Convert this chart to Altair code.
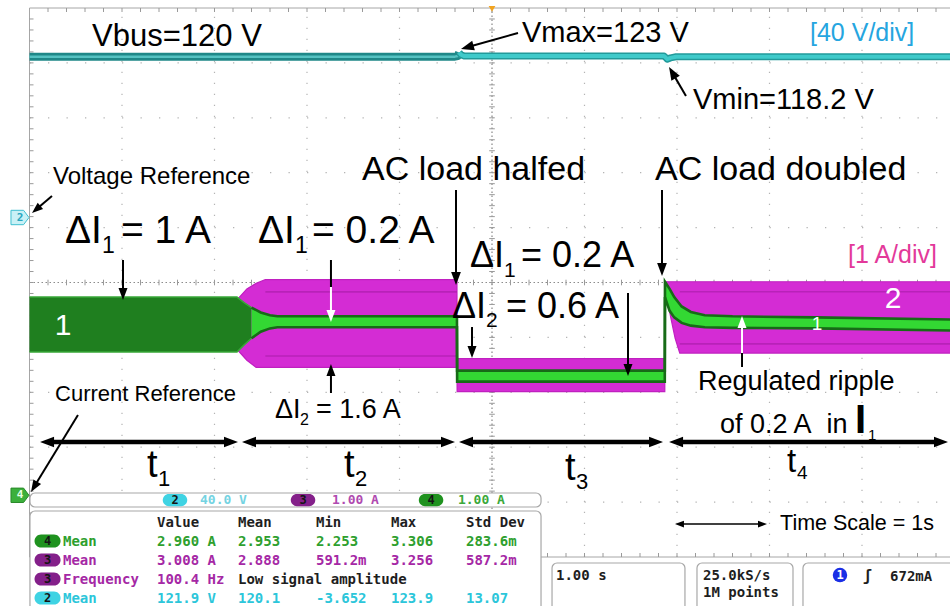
import math
import pandas as pd
import altair as alt

# ---------------------------------------------------------------------------
# Screen geometry: 1 s per horizontal division, vertical axis in divisions
# above the current reference (currents are 1 A/div, so 1 div = 1 A).
# ---------------------------------------------------------------------------
PX_PER_S = 92.5
PX_PER_DIV = 54.9
WIDTH, HEIGHT = 950, 606
ORIGIN_X, ORIGIN_Y = 492, 492          # t = 0 s column, 0 A row

X_DOMAIN = [-ORIGIN_X / PX_PER_S, (WIDTH - ORIGIN_X) / PX_PER_S]
Y_DOMAIN = [(ORIGIN_Y - HEIGHT) / PX_PER_DIV, ORIGIN_Y / PX_PER_DIV]

GRID_MID = 3.816                        # centre row of the graticule (div)
GRID_TOP, GRID_BOT = GRID_MID + 5, GRID_MID - 5
GRID_L, GRID_R = -5.0, 5.0

# ---------------------------------------------------------------------------
# Waveforms
# ---------------------------------------------------------------------------
# Channel 2: bus voltage, 40 V/div, reference marker at 4.93 div
V_REF = 4.93
V_SCALE = 40.0
vbus_t = [-5.0, -0.40, -0.37, -0.355, -0.335, -0.30, 1.86, 1.875, 1.895, 1.93, 1.99, 5.0]
vbus_v = [120.0, 120.0, 120.4, 123.0, 121.4, 120.4, 120.4, 119.5, 118.2, 119.1, 119.9, 120.0]

# Channel 3: I2 envelope (A)
i2_t = [-2.757, -2.65, -2.55, -2.45, -0.379, -0.377, 1.868, 1.870, 1.93, 1.98, 2.03, 5.0]
i2_lo = [2.60, 2.40, 2.27, 2.27, 2.27, 1.83, 1.83, 3.75, 3.20, 2.80, 2.53, 2.53]
i2_hi = [3.50, 3.70, 3.80, 3.87, 3.87, 2.43, 2.43, 3.83, 3.83, 3.83, 3.83, 3.83]

# Channel 4: I1 envelope (A)
i1_t = [-5.0, -2.757, -2.68, -2.60, -2.50, -2.40, -2.32, -0.379, -0.377, 1.868,
        1.870, 1.92, 1.97, 2.05, 2.15, 2.30, 2.60, 3.50, 5.0]
i1_lo = [2.55, 2.55, 2.68, 2.80, 2.92, 2.98, 3.00, 3.00, 2.01, 2.01,
         3.55, 3.30, 3.18, 3.08, 3.03, 3.00, 2.99, 2.98, 2.94]
i1_hi = [3.55, 3.55, 3.45, 3.36, 3.27, 3.22, 3.20, 3.20, 2.21, 2.21,
         3.83, 3.70, 3.55, 3.38, 3.28, 3.22, 3.20, 3.18, 3.14]

# ---------------------------------------------------------------------------
# Measurement readout
# ---------------------------------------------------------------------------
scale_channels = ["2", "3", "4"]
scale_values = ["40.0 V", "1.00 A", "1.00 A"]
meas_header = ["Value", "Mean", "Min", "Max", "Std Dev"]
meas_channel = ["4", "3", "3", "2"]
meas_name = ["Mean", "Mean", "Frequency", "Mean"]
meas_value = ["2.960 A", "3.008 A", "100.4 Hz", "121.9 V"]
meas_mean = ["2.953", "2.888", "Low signal amplitude", "120.1"]
meas_min = ["2.253", "591.2m", "", "-3.652"]
meas_max = ["3.306", "3.256", "", "123.9"]
meas_std = ["283.6m", "587.2m", "", "13.07"]
status_timebase = "1.00 s"
status_rate = ["25.0kS/s", "1M points"]
status_trigger = ["1", "\u0283", "672mA"]

CH_TEXT = {"2": "#2cc6da", "3": "#a528a5", "4": "#2ea02e"}
CH_PILL = {"2": "#3fd3e3", "3": "#84208a", "4": "#1f921f"}

SANS = "Liberation Sans, Arial, Helvetica, sans-serif"
MONO = "DejaVu Sans Mono, monospace"

xs = alt.Scale(domain=X_DOMAIN, nice=False, zero=False)
ys = alt.Scale(domain=Y_DOMAIN, nice=False, zero=False)


def X(f):
    return alt.X(f, type="quantitative", scale=xs, axis=None)


def Y(f):
    return alt.Y(f, type="quantitative", scale=ys, axis=None)


def rule_layer(rows, color, width=1.0, dash=None):
    kw = dict(color=color, strokeWidth=width, strokeCap="butt")
    if dash is not None:
        kw["strokeDash"] = dash
    df = pd.DataFrame(rows, columns=["x", "y", "x2", "y2"])
    return alt.Chart(df).mark_rule(**kw).encode(
        x=X("x"), y=Y("y"), x2=alt.X2("x2"), y2=alt.Y2("y2"))


def text_layer(rows, font=SANS, weight="normal", align="left", baseline="alphabetic"):
    df = pd.DataFrame(rows, columns=["text", "t", "d", "size", "color"])
    return alt.Chart(df).mark_text(font=font, fontWeight=weight, align=align,
                                   baseline=baseline).encode(
        x=X("t"), y=Y("d"), text="text:N",
        size=alt.Size("size:Q", scale=None, legend=None),
        color=alt.Color("color:N", scale=None, legend=None))


layers = []

# ---- graticule ------------------------------------------------------------
tx, ty = 4 / PX_PER_S, 4 / PX_PER_DIV
minor_t = [GRID_L + 0.2 * k for k in range(1, 50)]
minor_d = [GRID_BOT + 0.2 * k for k in range(1, 50)]
layers.append(rule_layer([(c, GRID_BOT, c, GRID_TOP) for c in range(-4, 5) if c != 0],
                         "#b4b4b4", 1.2, [1.3, 9.7]))
layers.append(rule_layer([(GRID_L, GRID_MID + j, GRID_R, GRID_MID + j) for j in range(-4, 5) if j != 0],
                         "#b4b4b4", 1.2, [1.3, 17.2]))
layers.append(rule_layer([(0, GRID_BOT, 0, GRID_TOP)], "#6e6e6e", 1.0, [1.5, 2.5]))
layers.append(rule_layer([(GRID_L, GRID_MID, GRID_R, GRID_MID)], "#8c8c8c", 1.0, [1.5, 2.5]))
layers.append(rule_layer([(GRID_L, GRID_TOP, GRID_R, GRID_TOP),
                          (GRID_L, GRID_BOT, GRID_L, GRID_TOP),
                          (GRID_L, GRID_BOT, GRID_R, GRID_BOT)], "#a6a6a6", 1.0))
layers.append(rule_layer(
    [(t, GRID_TOP, t, GRID_TOP - ty) for t in minor_t]
    + [(t, GRID_BOT, t, GRID_BOT + ty) for t in minor_t]
    + [(GRID_L, d, GRID_L + tx, d) for d in minor_d]
    + [(t, GRID_MID - 0.7 * ty, t, GRID_MID + 0.7 * ty) for t in minor_t]
    + [(-0.7 * tx, d, 0.7 * tx, d) for d in minor_d], "#9a9a9a", 1.0))

# ---- current envelopes ----------------------------------------------------
i2 = pd.DataFrame({"t": i2_t, "lo": i2_lo, "hi": i2_hi})
i1 = pd.DataFrame({"t": i1_t, "lo": i1_lo, "hi": i1_hi})
i1_dark = i1[i1.t <= -2.60]
i1_bright = i1[i1.t >= -2.60]

# darker persistence stripes inside the wide I2 envelopes (t2 and t4)
stripe_frames = []
for seg, (a, b) in enumerate([(-2.45, -0.379), (2.03, 5.0)]):
    part = i2[(i2.t >= a) & (i2.t <= b)]
    for k, frac in enumerate([0.13, 0.86]):
        stripe_frames.append(pd.DataFrame({
            "t": part.t, "d": part.lo + frac * (part.hi - part.lo), "key": f"{seg}-{k}"}))
stripes = pd.concat(stripe_frames, ignore_index=True)


def band(df, color):
    return alt.Chart(df).mark_area(color=color, opacity=1, interpolate="linear").encode(
        x=X("t"), y=Y("lo"), y2=alt.Y2("hi"))


def edge(df, field, color, width):
    return alt.Chart(df).mark_line(color=color, strokeWidth=width).encode(x=X("t"), y=Y(field))


layers += [band(i2, "#d42cd4"),
           edge(i2, "hi", "#c020c0", 1.2), edge(i2, "lo", "#c020c0", 1.2),
           alt.Chart(stripes).mark_line(color="#a01ca0", strokeWidth=1.6, opacity=0.55).encode(
               x=X("t"), y=Y("d"), detail="key:N"),
           band(i1_dark, "#1f7f1f"),
           edge(i1_dark, "hi", "#38a838", 1.5), edge(i1_dark, "lo", "#38a838", 1.5),
           band(i1_bright, "#33d833"),
           edge(i1_bright, "hi", "#176b17", 2.6), edge(i1_bright, "lo", "#176b17", 2.6)]

# ---- bus voltage ----------------------------------------------------------
vbus = pd.DataFrame({"t": vbus_t, "d": [V_REF + v / V_SCALE for v in vbus_v]})
v_left = vbus[vbus.t <= -0.355]
v_right = vbus[vbus.t >= -0.355]


def vline(df, color, width):
    return alt.Chart(df).mark_line(color=color, strokeWidth=width, strokeJoin="round").encode(
        x=X("t"), y=Y("d"))


layers += [vline(v_left, "#1f8888", 8), vline(v_left, "#55c2c2", 2.5),
           vline(v_right, "#229a9a", 7), vline(v_right, "#3fcaca", 4)]

# ---- readout panels (cover the lower graticule) ---------------------------
panels = pd.DataFrame([
    (-4.995, -0.018, 0.530, -0.273),
    (-4.995, -0.346, 0.530, -2.300),
    (0.649, -1.293, 2.086, -2.300),
    (2.216, -1.293, 3.254, -2.300),
    (3.362, -1.293, 5.300, -2.300),
], columns=["x", "y", "x2", "y2"])
layers.append(alt.Chart(panels).mark_rect(fill="white", stroke="#a8a8a8", strokeWidth=1.2,
                                          cornerRadius=5).encode(
    x=X("x"), y=Y("y"), x2=alt.X2("x2"), y2=alt.Y2("y2")))

# ---- annotations ----------------------------------------------------------
K = "black"
layers.append(text_layer([
    ("Vbus=120 V", -4.324, 8.124, 31, K),
    ("Vmax=123 V", 0.324, 8.197, 29, K),
    ("Vmin=118.2 V", 2.173, 6.976, 29, K),
    ("[40 V/div]", 3.438, 8.215, 25, "#25a5e0"),
    ("Voltage Reference", -4.746, 5.610, 24, K),
    ("\u0394I", -4.616, 4.536, 39, K), ("1", -4.216, 4.353, 23, K), ("= 1 A", -4.011, 4.536, 39, K),
    ("\u0394I", -2.530, 4.536, 39, K), ("1", -2.130, 4.353, 23, K), ("= 0.2 A", -1.946, 4.536, 39, K),
    ("AC load halfed", -1.405, 5.683, 34, K),
    ("AC load doubled", 1.762, 5.683, 34, K),
    ("\u0394I", -0.238, 4.098, 36, K), ("1", 0.130, 3.916, 21, K), ("= 0.2 A", 0.314, 4.098, 36, K),
    ("\u0394I", -0.432, 3.169, 36, K), ("2", -0.065, 3.005, 21, K), ("= 0.6 A", 0.151, 3.169, 36, K),
    ("[1 A/div]", 3.849, 4.171, 25, "#e3399a"),
    ("\u0394I", -2.346, 1.348, 27, K), ("2", -2.076, 1.220, 16, K), ("= 1.6 A", -1.903, 1.348, 27, K),
    ("Current Reference", -4.724, 1.658, 22, K),
    ("Regulated ripple", 2.227, 1.858, 27, K),
    ("of 0.2 A\u00a0 in", 2.465, 1.075, 27, K), ("1", 4.065, 0.947, 15, K),
    ("t", -3.730, 0.273, 38, K), ("1", -3.611, 0.109, 22, K),
    ("t", -1.600, 0.273, 38, K), ("2", -1.481, 0.109, 22, K),
    ("t", 0.789, 0.219, 38, K), ("3", 0.908, 0.055, 22, K),
    ("t", 3.189, 0.364, 33, K), ("4", 3.297, 0.237, 19, K),
    ("Time Scale = 1s", 3.114, -0.692, 21.5, K),
]))
layers.append(text_layer([("I", 3.924, 1.075, 40, K)], weight="bold"))
layers.append(text_layer([("1", -4.638, 2.860, 30, "white"),
                          ("2", 4.335, 3.352, 30, "white"),
                          ("1", 3.514, 2.951, 19, "white")], align="center"))

# ---- arrows ---------------------------------------------------------------
HEAD = "M0,0L0.75,2L-0.75,2Z"       # tip at the anchor, pointing up
arrows = [
    # tail t, tail d, head t, head d, width, colour, heads, head length px
    (0.281, 8.361, -0.335, 8.069, 2, K, "end", 13),
    (2.097, 7.213, 1.914, 7.741, 2, K, "end", 13),
    (-4.757, 5.392, -4.973, 5.082, 2, K, "end", 11),
    (-3.989, 4.226, -3.989, 3.497, 2, K, "end", 12),
    (-1.741, 4.226, -1.741, 3.734, 2, K, "none", 0),
    (-1.741, 3.734, -1.741, 3.097, 2, "white", "end", 12),
    (-0.389, 5.501, -0.389, 3.770, 2, K, "end", 13),
    (1.838, 5.501, 1.838, 3.934, 2, K, "end", 13),
    (-1.741, 1.803, -1.741, 2.332, 2, K, "end", 12),
    (-0.216, 3.005, -0.216, 2.441, 2, K, "end", 12),
    (1.470, 3.625, 1.470, 2.113, 2, K, "end", 12),
    (2.703, 2.277, 2.703, 2.532, 2, K, "none", 0),
    (2.703, 2.532, 2.703, 3.206, 2, "white", "end", 12),
    (-4.476, 1.403, -4.984, 0.0, 2, K, "end", 12),
    (-4.886, 0.911, -2.746, 0.911, 4.5, K, "both", 14),
    (-2.703, 0.911, -0.400, 0.911, 4.5, K, "both", 14),
    (-0.357, 0.911, 1.849, 0.911, 4.5, K, "both", 14),
    (1.914, 0.911, 4.930, 0.911, 4.5, K, "both", 14),
    (1.978, -0.583, 2.973, -0.583, 1.5, K, "both", 9),
]
line_rows, head_rows = [], []
for t0, d0, t1, d1, w, col, ends, hl in arrows:
    dx = (t1 - t0) * PX_PER_S
    dy = -(d1 - d0) * PX_PER_DIV
    length = math.hypot(dx, dy)
    ux, uy = dx / length, dy / length
    back = 0.7 * hl

    def move(t, d, px):
        return t + ux * px / PX_PER_S, d - uy * px / PX_PER_DIV

    a = move(t0, d0, back) if ends == "both" else (t0, d0)
    b = move(t1, d1, -back) if ends in ("end", "both") else (t1, d1)
    line_rows.append(dict(x=a[0], y=a[1], x2=b[0], y2=b[1], w=w, color=col))
    ang = math.degrees(math.atan2(dx, -dy)) % 360
    if ends in ("end", "both"):
        head_rows.append(dict(x=t1, y=d1, angle=ang, size=hl * hl, color=col))
    if ends == "both":
        head_rows.append(dict(x=t0, y=d0, angle=(ang + 180) % 360, size=hl * hl, color=col))

layers.append(alt.Chart(pd.DataFrame(line_rows)).mark_rule(strokeCap="butt").encode(
    x=X("x"), y=Y("y"), x2=alt.X2("x2"), y2=alt.Y2("y2"),
    strokeWidth=alt.StrokeWidth("w:Q", scale=None, legend=None),
    color=alt.Color("color:N", scale=None, legend=None)))
layers.append(alt.Chart(pd.DataFrame(head_rows)).mark_point(
    shape=HEAD, filled=True, opacity=1, strokeWidth=0).encode(
    x=X("x"), y=Y("y"),
    angle=alt.Angle("angle:Q", scale=None),
    size=alt.Size("size:Q", scale=None, legend=None),
    color=alt.Color("color:N", scale=None, legend=None)))

# ---- channel reference markers and trigger position ------------------------
MARK = "M-1,-0.8L0.4,-0.8L1,0L0.4,0.8L-1,0.8Z"
refs = pd.DataFrame([
    dict(x=-5.103, y=5.0, fill="#c9f1f6", stroke="#3fbfd0", label="2", tc="#2aa6bf"),
    dict(x=-5.103, y=-0.06, fill="#3cb03c", stroke="#2a8a2a", label="4", tc="#e8ffe8"),
])
layers.append(alt.Chart(refs).mark_point(shape=MARK, filled=True, opacity=1, size=324,
                                         strokeWidth=1).encode(
    x=X("x"), y=Y("y"),
    fill=alt.Fill("fill:N", scale=None, legend=None),
    stroke=alt.Stroke("stroke:N", scale=None, legend=None)))
layers.append(alt.Chart(refs).mark_text(font=MONO, fontSize=11, fontWeight="bold",
                                        align="center", baseline="middle").encode(
    x=X("x"), y=Y("y"), text="label:N",
    color=alt.Color("tc:N", scale=None, legend=None)))
layers.append(alt.Chart(pd.DataFrame({"x": [0.0], "y": [8.80]})).mark_point(
    shape="triangle-down", filled=True, opacity=1, size=45, color="#f2a31e").encode(
    x=X("x"), y=Y("y")))

# ---- readout contents -----------------------------------------------------
PILL = "M-0.5,-0.5L0.5,-0.5A0.5,0.5 0 0 1 0.5,0.5L-0.5,0.5A0.5,0.5 0 0 1 -0.5,-0.5Z"
pill_rows = []
strip_pill_t = [-3.427, -2.043, -0.659]
strip_text_t = [-3.157, -1.730, -0.368]
for ch, t in zip(scale_channels, strip_pill_t):
    pill_rows.append(dict(x=t, y=-0.146, fill=CH_PILL[ch], label=ch, size=600))
row_d = [-0.984, -1.330, -1.676, -2.022]
for ch, d in zip(meas_channel, row_d):
    pill_rows.append(dict(x=-4.805, y=d + 0.09, fill=CH_PILL[ch], label=ch, size=680))
pills = pd.DataFrame(pill_rows)
layers.append(alt.Chart(pills).mark_point(shape=PILL, filled=True, opacity=1, strokeWidth=0).encode(
    x=X("x"), y=Y("y"),
    size=alt.Size("size:Q", scale=None, legend=None),
    fill=alt.Fill("fill:N", scale=None, legend=None)))
layers.append(alt.Chart(pills).mark_text(font=MONO, fontSize=12, fontWeight="bold", color="#151515",
                                         align="center", baseline="middle").encode(
    x=X("x"), y=Y("y"), text="label:N"))

strip_colors = ["#74d3e2", "#b04ab0", "#3aa83a"]
table_rows = [(v, t, -0.219, 13, c) for v, t, c in zip(scale_values, strip_text_t, strip_colors)]
col_t = [-3.622, -2.746, -1.903, -1.092, -0.281]
table_rows += [(h, t, -0.638, 14, "#1e1e1e") for h, t in zip(meas_header, col_t)]
for i, d in enumerate(row_d):
    c = CH_TEXT[meas_channel[i]]
    table_rows.append((meas_name[i], -4.638, d, 14, c))
    cells = [meas_value[i], meas_mean[i], meas_min[i], meas_max[i], meas_std[i]]
    for txt, t in zip(cells, col_t):
        if txt:
            colour = "#1e1e1e" if txt == "Low signal amplitude" else c
            table_rows.append((txt, t, d, 14, colour))
table_rows += [
    (status_timebase, 0.692, -1.603, 14, "#1e1e1e"),
    (status_rate[0], 2.281, -1.603, 14, "#1e1e1e"),
    (status_rate[1], 2.281, -1.913, 14, "#1e1e1e"),
    (status_trigger[1], 4.011, -1.621, 15, "#1e1e1e"),
    (status_trigger[2], 4.303, -1.621, 14, "#1e1e1e"),
]
layers.append(text_layer(table_rows, font=MONO, weight="bold"))
layers.append(alt.Chart(pd.DataFrame({"x": [3.762], "y": [-1.512], "label": [status_trigger[0]]}))
              .mark_point(shape="circle", filled=True, opacity=1, size=210, color="#1a2fe6")
              .encode(x=X("x"), y=Y("y")))
layers.append(alt.Chart(pd.DataFrame({"x": [3.762], "y": [-1.512], "label": [status_trigger[0]]}))
              .mark_text(font=MONO, fontSize=12, fontWeight="bold", color="white",
                         align="center", baseline="middle")
              .encode(x=X("x"), y=Y("y"), text="label:N"))

chart = alt.layer(*layers).properties(
    width=WIDTH, height=HEIGHT, padding=0,
    autosize=alt.AutoSizeParams(type="none"),
    background="white",
).configure_view(stroke=None)

chart.save("out.html", embed_options={"renderer": "svg", "actions": False})
